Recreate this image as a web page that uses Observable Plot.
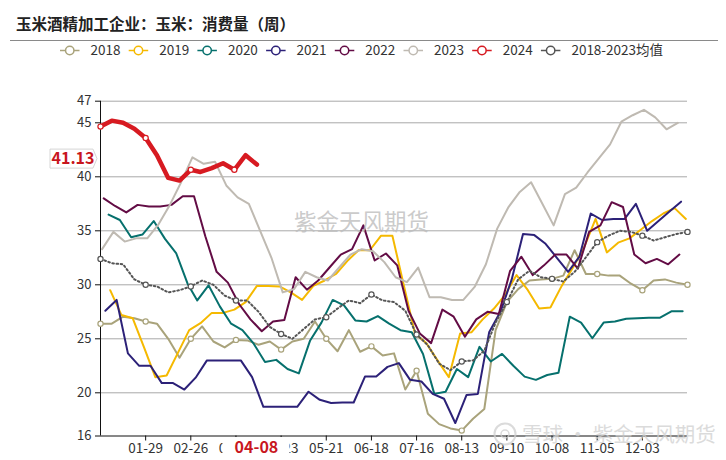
<!DOCTYPE html>
<html><head><meta charset="utf-8">
<script src="https://cdn.jsdelivr.net/npm/d3@7"></script>
<script src="https://cdn.jsdelivr.net/npm/@observablehq/plot@0.6"></script>
<style>
body{margin:0;background:#fff;font-family:"Noto Sans CJK SC","Noto Sans",sans-serif;}
#wrap{position:relative;width:726px;height:460px;overflow:hidden;background:#fff;}
svg{display:block;}
</style></head><body><div id="wrap"></div>
<script>
const title = "玉米酒精加工企业：玉米：消费量（周）";
const seriesNames = ["2018","2019","2020","2021","2022","2023","2024","2018-2023均值"];
const seriesColors = ["#a9a37b","#f5b900","#06706d","#2c2178","#630c45","#bfbab2","#d71a21","#555555"];
const startDates = ["2018-01-01","2019-01-07","2020-01-06","2021-01-04","2022-01-03","2023-01-02","2024-01-01","2018-01-01"];
const markedSeries = ["2018","2024","2018-2023均值"];

const v2018 = [26.4,26.4,27.05,26.9,26.6,26.4,25.0,23.25,25.0,26.15,24.75,24.2,24.9,24.85,24.45,24.75,24.0,24.75,25.0,26.6,25.0,23.85,25.8,23.8,24.3,23.45,23.65,20.3,22.05,18.05,17.1,16.7,16.5,17.6,18.5,25.8,28.4,29.6,30.4,30.5,30.55,30.85,33.2,31.0,31.0,30.85,30.85,30.1,29.5,30.4,30.5,30.2,30.0];
const v2019 = [29.5,27.2,26.9,24.2,21.45,21.6,23.7,25.8,26.45,27.4,27.4,27.7,28.4,29.9,29.9,29.85,29.3,28.6,29.9,30.4,31.0,32.2,33.2,33.2,34.55,34.55,30.0,25.5,24.6,23.0,21.45,25.5,25.6,26.8,27.8,29.1,30.9,29.5,27.8,27.9,29.9,31.6,33.5,36.1,33.0,33.9,34.3,35.1,35.9,36.6,37.1,36.1];
const v2020 = [36.5,36.0,34.4,34.65,35.9,34.25,32.9,30.1,28.55,29.95,28.0,26.4,25.8,24.55,22.85,23.05,22.2,21.8,24.85,26.5,28.6,28.1,26.7,26.6,27.1,26.4,25.8,25.6,23.6,19.9,20.1,22.2,21.45,24.25,22.9,23.6,22.5,21.5,21.2,21.65,21.85,27.05,26.5,25.05,26.5,26.6,26.85,26.9,26.95,26.95,27.55,27.55];
const v2021 = [27.6,28.6,23.65,22.5,22.5,20.9,20.9,20.3,21.4,23.0,23.0,23.0,23.0,21.45,18.7,18.7,18.7,18.7,20.1,19.35,19.05,19.1,19.1,21.5,21.5,22.4,22.75,21.2,21.05,19.9,19.45,17.2,19.8,19.9,25.6,27.5,30.5,34.7,34.6,33.8,32.5,31.2,32.6,36.6,36.0,36.1,36.1,37.5,35.0,35.9,36.8,37.7];
const v2022 = [38.0,37.3,36.7,37.4,37.25,37.25,37.4,38.2,38.2,34.5,31.2,30.2,28.2,26.8,25.7,26.6,26.75,30.7,29.55,30.4,31.6,32.8,33.3,35.5,32.25,32.9,31.8,27.6,25.5,24.6,27.7,27.05,25.2,26.8,27.5,27.3,31.3,32.6,30.9,31.8,32.8,32.8,31.5,34.9,35.5,37.65,37.2,32.8,32.0,32.4,31.9,32.8];
const v2023 = [33.3,34.9,34.0,34.3,34.3,35.6,37.4,39.5,41.8,41.2,41.4,39.2,38.1,37.5,35.0,32.5,29.3,29.6,31.2,30.7,30.4,31.6,32.8,33.3,33.1,32.1,30.7,30.25,31.6,28.85,28.85,28.6,28.6,29.8,31.9,35.2,37.2,38.6,39.5,37.5,35.5,38.4,39.0,40.4,41.7,43.0,45.1,45.7,46.2,45.5,44.4,45.0];
const v2024 = [44.65,45.2,45.0,44.45,43.6,42.0,39.9,39.65,40.65,40.45,40.8,41.25,40.65,42.0,41.13];
const vAvg = [32.4,32.0,31.9,30.5,30.0,29.85,29.3,29.5,29.85,30.4,30.0,29.0,28.55,28.55,27.5,26.1,25.45,25.0,25.9,26.8,27.0,27.8,28.55,28.3,29.1,28.55,28.4,27.6,25.4,24.4,22.7,22.1,22.9,23.0,23.9,26.5,28.4,30.5,31.3,30.7,30.55,30.3,31.2,32.55,33.95,34.55,35.0,34.9,34.55,34.1,34.4,34.7,34.9];

const tickLabels = ["01-29","02-26","03-26","04-23","05-21","06-18","07-16","08-13","09-10","10-08","11-05","12-03"];
const yTicks = [16,20,25,30,35,40,45,47];
const latestLabel = "04-08";
const latestValue = 41.13;
const watermark = "紫金天风期货";
const watermark2 = "雪球 · 紫金天风期货";

const allValues = [v2018,v2019,v2020,v2021,v2022,v2023,v2024,vAvg];
const refYear = 2018;
const toRef = d => new Date(Date.UTC(refYear, d.getUTCMonth(), d.getUTCDate()));
const rows = [];
allValues.forEach((vals, s) => {
  const d0 = new Date(startDates[s] + "T00:00:00Z");
  vals.forEach((v, i) => {
    const d = d3.utcDay.offset(d0, 7 * i);
    rows.push({series: seriesNames[s], date: toRef(d), value: v, i});
  });
});
const tickDates = tickLabels.map(t => { const [m, d] = t.split("-").map(Number); return new Date(Date.UTC(refYear, m - 1, d)); });
const xStart = new Date(Date.UTC(refYear, 0, 1)), xEnd = new Date(Date.UTC(refYear, 11, 31));
const FONT = '"Noto Sans CJK SC","Noto Sans",sans-serif';

const wrap = d3.select("#wrap");
// header
const header = wrap.append("svg").attr("width", 726).attr("height", 60).style("font-family", FONT);
header.append("text").attr("x", 16).attr("y", 30).attr("font-size", 15.5).attr("font-weight", 700).attr("fill", "#222").text(title);
header.append("line").attr("x1", 10).attr("x2", 718).attr("y1", 40.5).attr("y2", 40.5).attr("stroke", "#8a8a8a").attr("stroke-width", 1);
seriesNames.forEach((n, k) => {
  const x0 = 60 + 68.7 * k, c = seriesColors[k];
  const g = header.append("g");
  g.append("line").attr("x1", x0).attr("x2", x0 + 19.5).attr("y1", 50.5).attr("y2", 50.5).attr("stroke", c).attr("stroke-width", 1.5);
  g.append("circle").attr("cx", x0 + 9.75).attr("cy", 50.5).attr("r", 4.2).attr("fill", "#fff").attr("stroke", c).attr("stroke-width", 1.5);
  g.append("text").attr("x", x0 + 30.5).attr("y", 55.2).attr("font-size", 13.5).attr("fill", "#333").text(n);
});

const base = rows.filter(r => !["2024", "2018-2023均值"].includes(r.series));
const r2024 = rows.filter(r => r.series === "2024");
const rAvg = rows.filter(r => r.series === "2018-2023均值");
const marked = rows.filter(r => markedSeries.includes(r.series) && r.i % 4 === 0);

const chart = Plot.plot({
  width: 726, height: 400,
  marginLeft: 100, marginRight: 39, marginTop: 40.7, marginBottom: 24.5,
  style: {fontFamily: FONT, background: "transparent", overflow: "visible"},
  x: {type: "utc", domain: [xStart, xEnd]},
  y: {domain: [16, 47]},
  color: {domain: seriesNames, range: seriesColors},
  marks: [
    Plot.gridY(yTicks.filter(t => t > 16), {stroke: "#a9a9a9", strokeOpacity: 1, strokeWidth: 1}),
    Plot.axisY(yTicks, {tickSize: 5, tickPadding: 4, label: null, fontSize: 13, stroke: "#111", fill: "#333"}),
    Plot.axisX(tickDates, {tickFormat: d3.utcFormat("%m-%d"), tickSize: 5, tickPadding: 2, label: null, fontSize: 13.5, stroke: "#111", fill: "#333"}),
    Plot.ruleY([16], {stroke: "#111"}),
    Plot.ruleX([xStart], {stroke: "#111"}),
    Plot.line(base, {x: "date", y: "value", z: "series", stroke: "series", strokeWidth: 2, curve: "linear"}),
    Plot.line(r2024, {x: "date", y: "value", stroke: "series", strokeWidth: 4.5}),
    Plot.line(rAvg, {x: "date", y: "value", stroke: "series", strokeWidth: 2, strokeDasharray: "1.6,2.6"}),
    Plot.dot(marked, {x: "date", y: "value", r: 2.6, fill: "white", stroke: "series", strokeWidth: 1.2})
  ]
});
wrap.node().appendChild(chart);

const svg = d3.select(chart);
const xs = chart.scale("x"), ys = chart.scale("y");
// watermark in plot
svg.append("text").attr("x", 294).attr("y", 170).attr("text-anchor", "start").attr("font-size", 22.5).attr("fill", "#bdbdbd").attr("fill-opacity", 0.8).style("font-family", FONT).text(watermark);

// latest value tag on y axis
const ty = ys.apply(latestValue) - 5.5;
svg.append("path").attr("d", `M50,${ty - 9.5}H93L97,${ty}L93,${ty + 9.5}H50Z`).attr("fill", "#fff").attr("stroke", "#d6d6d6");
svg.append("text").attr("x", 73).attr("y", ty + 5.6).attr("text-anchor", "middle").attr("font-size", 16).attr("font-weight", 700).attr("fill", "#c8161d").style("font-family", FONT).text(latestValue.toFixed(2));

// latest date label on x axis
const lastDate = r2024[r2024.length - 1].date;
const lx = xs.apply(lastDate);
svg.append("rect").attr("x", lx - 34).attr("y", 377).attr("width", 67).attr("height", 23).attr("fill", "#fff");
svg.append("text").attr("x", lx).attr("y", 393).attr("text-anchor", "middle").attr("font-size", 16).attr("font-weight", 700).attr("fill", "#c8161d").style("font-family", FONT).text(latestLabel);

// bottom-right watermark
const wm = svg.append("g").attr("opacity", 0.75);
wm.append("circle").attr("cx", 505).attr("cy", 374).attr("r", 10.5).attr("fill", "none").attr("stroke", "#cfcfcf").attr("stroke-width", 2);
wm.append("circle").attr("cx", 505).attr("cy", 374).attr("r", 4).attr("fill", "none").attr("stroke", "#cfcfcf").attr("stroke-width", 1.5);
wm.append("text").attr("x", 522).attr("y", 382).attr("text-anchor", "start").attr("font-size", 20.5).attr("fill", "#d0d0d0").style("font-family", FONT).text(watermark2);
</script></body></html>
